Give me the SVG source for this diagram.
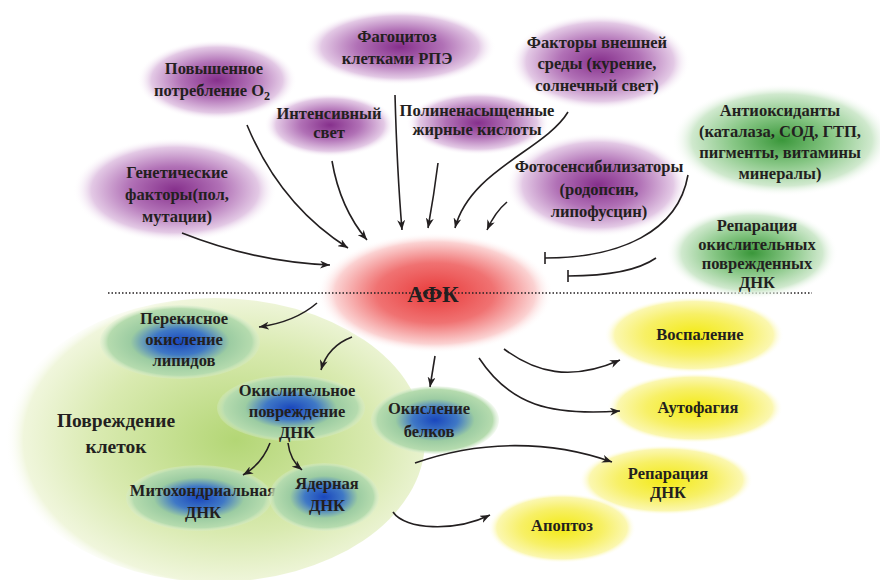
<svg xmlns="http://www.w3.org/2000/svg" width="880" height="580" viewBox="0 0 880 580">
<style>
text{font-family:"Liberation Serif","DejaVu Serif",serif;font-weight:bold;font-size:16.5px;fill:#231f20;text-anchor:middle}
.big{font-size:19.5px}
.afk{font-size:23px}
.con{fill:none;stroke:#231f20;stroke-width:1.6}
</style>
<defs>
<radialGradient id="gPurple">
<stop offset="0" stop-color="#86308c"/>
<stop offset="0.45" stop-color="#b171b6"/>
<stop offset="0.82" stop-color="#e3c9e5"/>
<stop offset="1" stop-color="#ffffff" stop-opacity="0"/>
</radialGradient>
<radialGradient id="gGreen">
<stop offset="0" stop-color="#3a973a"/>
<stop offset="0.45" stop-color="#88c786"/>
<stop offset="0.82" stop-color="#d0e9ce"/>
<stop offset="1" stop-color="#ffffff" stop-opacity="0"/>
</radialGradient>
<radialGradient id="gRed">
<stop offset="0" stop-color="#e83a3a"/>
<stop offset="0.5" stop-color="#f07272"/>
<stop offset="0.85" stop-color="#fbd2d2"/>
<stop offset="1" stop-color="#ffffff" stop-opacity="0"/>
</radialGradient>
<radialGradient id="gYellow">
<stop offset="0" stop-color="#f3ea14"/>
<stop offset="0.55" stop-color="#f7f066"/>
<stop offset="0.88" stop-color="#fbf7b0"/>
<stop offset="1" stop-color="#ffffff" stop-opacity="0"/>
</radialGradient>
<radialGradient id="gBlue">
<stop offset="0" stop-color="#1a47bd"/>
<stop offset="0.35" stop-color="#3f78c6"/>
<stop offset="0.62" stop-color="#9ccca2"/>
<stop offset="0.9" stop-color="#b5dbae"/>
<stop offset="1" stop-color="#d8ecd0" stop-opacity="0.3"/>
</radialGradient>
<radialGradient id="gCell" cx="0.55" cy="0.5" r="0.55">
<stop offset="0" stop-color="#b3d675"/>
<stop offset="0.6" stop-color="#d9eab0"/>
<stop offset="0.92" stop-color="#f0f6dc"/>
<stop offset="1" stop-color="#ffffff" stop-opacity="0"/>
</radialGradient>
<marker id="arr" viewBox="0 0 10 8" refX="10" refY="4" markerWidth="10" markerHeight="8" markerUnits="userSpaceOnUse" orient="auto">
<path d="M0,0 L10,4 L0,8 L3,4 Z" fill="#231f20"/>
</marker>
<marker id="bar" viewBox="0 0 2 12" refX="1" refY="6" markerWidth="2" markerHeight="12" markerUnits="userSpaceOnUse" orient="auto">
<line x1="1" y1="0" x2="1" y2="12" stroke="#231f20" stroke-width="1.6"/>
</marker>
</defs>
<rect width="880" height="580" fill="#ffffff"/>

<g id="cell-damage">
<ellipse cx="215" cy="440" rx="210" ry="142" fill="url(#gCell)"/>
<text class="big" x="116" y="427">Повреждение</text>
<text class="big" x="116" y="453">клеток</text>
</g>

<g id="afk">
<ellipse cx="435" cy="293" rx="118" ry="60" fill="url(#gRed)"/>
</g>

<line x1="108" y1="293" x2="812" y2="293" stroke="#231f20" stroke-width="1.4" stroke-dasharray="1.5,2"/>
<text class="afk" x="433" y="302">АФК</text>

<g id="oxygen">
<ellipse cx="217" cy="80" rx="80" ry="40" fill="url(#gPurple)"/>
<text x="214" y="74">Повышенное</text>
<text x="212" y="96">потребление О<tspan font-size="12" dy="4">2</tspan></text>
</g>
<g id="phagocytosis">
<ellipse cx="400" cy="47" rx="96" ry="38" fill="url(#gPurple)"/>
<text x="397" y="42">Фагоцитоз</text>
<text x="397" y="64">клетками РПЭ</text>
</g>
<g id="light">
<ellipse cx="330" cy="125" rx="66" ry="32" fill="url(#gPurple)"/>
<text x="329" y="119">Интенсивный</text>
<text x="329" y="138">свет</text>
</g>
<g id="pufa">
<ellipse cx="478" cy="123" rx="72" ry="32" fill="url(#gPurple)"/>
<text x="477" y="116">Полиненасыщенные</text>
<text x="477" y="135">жирные кислоты</text>
</g>
<g id="genetic">
<ellipse cx="175" cy="190" rx="102" ry="52" fill="url(#gPurple)"/>
<text x="177" y="178">Генетические</text>
<text x="177" y="200">факторы(пол,</text>
<text x="177" y="222">мутации)</text>
</g>
<g id="environment">
<ellipse cx="600" cy="62" rx="90" ry="48" fill="url(#gPurple)"/>
<text x="597" y="48">Факторы внешней</text>
<text x="597" y="69">среды (курение,</text>
<text x="597" y="91">солнечный свет)</text>
</g>
<g id="photosensitizers">
<ellipse cx="598" cy="185" rx="92" ry="52" fill="url(#gPurple)"/>
<text x="599" y="172">Фотосенсибилизаторы</text>
<text x="599" y="195">(родопсин,</text>
<text x="599" y="217">липофусцин)</text>
</g>
<g id="antioxidants">
<ellipse cx="782" cy="140" rx="110" ry="56" fill="url(#gGreen)"/>
<text x="780" y="116">Антиоксиданты</text>
<text x="780" y="137">(каталаза, СОД, ГТП,</text>
<text x="780" y="158">пигменты, витамины</text>
<text x="780" y="179">минералы)</text>
</g>
<g id="dna-repair-ox">
<ellipse cx="752" cy="253" rx="86" ry="46" fill="url(#gGreen)"/>
<text x="757" y="231">Репарация</text>
<text x="757" y="250">окислительных</text>
<text x="757" y="269">поврежденных</text>
<text x="757" y="288">ДНК</text>
</g>

<g id="lipid-peroxidation">
<ellipse cx="180" cy="342" rx="80" ry="37" fill="url(#gBlue)"/>
<text x="184" y="324">Перекисное</text>
<text x="184" y="345">окисление</text>
<text x="184" y="366">липидов</text>
</g>
<g id="dna-damage">
<ellipse cx="291" cy="408" rx="74" ry="33" fill="url(#gBlue)"/>
<text x="297" y="396">Окислительное</text>
<text x="297" y="417">повреждение</text>
<text x="297" y="438">ДНК</text>
</g>
<g id="mito-dna">
<ellipse cx="199" cy="498" rx="73" ry="33" fill="url(#gBlue)"/>
<text x="203" y="496">Митохондриальная</text>
<text x="203" y="518">ДНК</text>
</g>
<g id="nuclear-dna">
<ellipse cx="324" cy="497" rx="55" ry="34" fill="url(#gBlue)"/>
<text x="327" y="489">Ядерная</text>
<text x="327" y="511">ДНК</text>
</g>
<g id="protein-oxidation">
<ellipse cx="435" cy="420" rx="64" ry="34" fill="url(#gBlue)"/>
<text x="429" y="414">Окисление</text>
<text x="429" y="437">белков</text>
</g>

<g id="inflammation">
<ellipse cx="694" cy="335" rx="90" ry="38" fill="url(#gYellow)"/>
<text x="700" y="340">Воспаление</text>
</g>
<g id="autophagy">
<ellipse cx="695" cy="408" rx="88" ry="35" fill="url(#gYellow)"/>
<text x="698" y="413">Аутофагия</text>
</g>
<g id="dna-repair">
<ellipse cx="666" cy="480" rx="87" ry="35" fill="url(#gYellow)"/>
<text x="668" y="479">Репарация</text>
<text x="668" y="498">ДНК</text>
</g>
<g id="apoptosis">
<ellipse cx="562" cy="528" rx="74" ry="35" fill="url(#gYellow)"/>
<text x="562" y="531">Апоптоз</text>
</g>

<g id="connectors">
<path class="con" marker-end="url(#arr)" d="M182,233 Q255,262 330,265"/>
<path class="con" marker-end="url(#arr)" d="M247,125 Q280,205 348,248"/>
<path class="con" marker-end="url(#arr)" d="M332,161 Q340,208 367,240"/>
<path class="con" marker-end="url(#arr)" d="M395,95 Q397,170 402,230"/>
<path class="con" marker-end="url(#arr)" d="M438,163 Q434,195 428,228"/>
<path class="con" marker-end="url(#arr)" d="M568,112 C545,150 470,170 455,228"/>
<path class="con" marker-end="url(#arr)" d="M507,202 Q495,212 487,230"/>
<path class="con" marker-end="url(#bar)" d="M688,175 C678,232 620,258 545,258"/>
<path class="con" marker-end="url(#bar)" d="M656,258 Q630,276 568,276"/>
<path class="con" marker-end="url(#arr)" d="M317,303 Q295,322 259,327"/>
<path class="con" marker-end="url(#arr)" d="M352,337 Q328,346 321,370"/>
<path class="con" marker-end="url(#arr)" d="M270,443 Q262,464 243,475"/>
<path class="con" marker-end="url(#arr)" d="M288,443 Q290,460 302,470"/>
<path class="con" marker-end="url(#arr)" d="M435,356 L430,387"/>
<path class="con" marker-end="url(#arr)" d="M504,349 C535,372 570,382 620,360"/>
<path class="con" marker-end="url(#arr)" d="M479,358 C510,405 550,416 620,411"/>
<path class="con" marker-end="url(#arr)" d="M415,463 C480,440 550,440 612,462"/>
<path class="con" marker-end="url(#arr)" d="M393,512 C405,530 455,532 490,515"/>
</g>
</svg>
